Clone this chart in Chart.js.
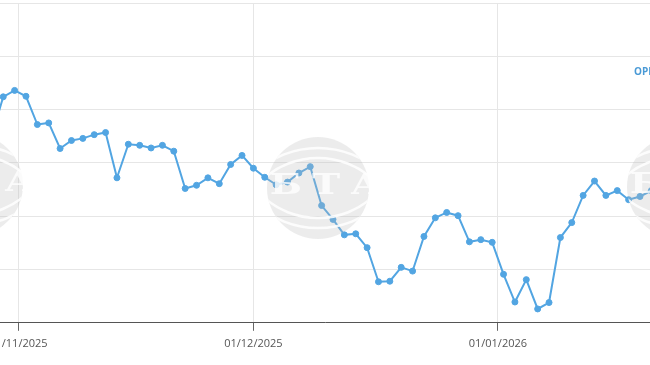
<!DOCTYPE html>
<html lang="en">
<head>
    <meta charset="UTF-8">
    <title>OPEC basket price</title>
    <script src="https://cdn.jsdelivr.net/npm/chart.js"></script>
    <style>
        html, body {
            margin: 0;
            padding: 0;
            background-color: #fff;
        }
        .chart-wrapper {
            width: 650px;
            height: 365px;
        }
    </style>
</head>
<body>
    <div class="chart-wrapper">
        <canvas id="priceChart" width="650" height="365"></canvas>
    </div>

    <script>
        // Series data (trading days only)
        const seriesName = 'OPEC';
        const dates = [
            '2025-10-29', '2025-10-30', '2025-10-31',
            '2025-11-03', '2025-11-04', '2025-11-05', '2025-11-06', '2025-11-07',
            '2025-11-10', '2025-11-11', '2025-11-12', '2025-11-13', '2025-11-14',
            '2025-11-17', '2025-11-18', '2025-11-19', '2025-11-20', '2025-11-21',
            '2025-11-24', '2025-11-25', '2025-11-26', '2025-11-27', '2025-11-28',
            '2025-12-01', '2025-12-02', '2025-12-03', '2025-12-04', '2025-12-05',
            '2025-12-08', '2025-12-09', '2025-12-10', '2025-12-11', '2025-12-12',
            '2025-12-15', '2025-12-16', '2025-12-17', '2025-12-18', '2025-12-19',
            '2025-12-22', '2025-12-23', '2025-12-24', '2025-12-26',
            '2025-12-29', '2025-12-30', '2025-12-31',
            '2026-01-02', '2026-01-05', '2026-01-06', '2026-01-07', '2026-01-08',
            '2026-01-09', '2026-01-12', '2026-01-13', '2026-01-14', '2026-01-15',
            '2026-01-16', '2026-01-19', '2026-01-20', '2026-01-21'
        ];
        const prices = [
            64.52, 65.24, 65.36,
            65.25, 64.72, 64.75, 64.27, 64.42,
            64.46, 64.53, 64.57, 63.72, 64.35,
            64.33, 64.28, 64.33, 64.22, 63.52,
            63.58, 63.72, 63.61, 63.97, 64.14,
            63.90, 63.73, 63.59, 63.64, 63.81,
            63.93, 63.20, 62.94, 62.65, 62.67,
            62.41, 61.77, 61.78, 62.04, 61.97,
            62.62, 62.97, 63.07, 63.01,
            62.52, 62.56, 62.51,
            61.91, 61.39, 61.81, 61.26, 61.38,
            62.60, 62.88, 63.39, 63.66, 63.39,
            63.48, 63.31, 63.37, 63.48
        ];

        // Month ticks on the ordinal (trading day) axis
        const monthStarts = ['2025-11-01', '2025-12-01', '2026-01-01'];
        const tickLabels = ['01/11/2025', '01/12/2025', '01/01/2026'];

        // fractional index of a calendar day between the trading days around it
        function positionOf(day) {
            const t = Date.parse(day);
            for (let i = 0; i < dates.length - 1; i++) {
                const a = Date.parse(dates[i]);
                const b = Date.parse(dates[i + 1]);
                if (t >= a && t < b) return i + (t - a) / (b - a);
            }
            return dates.length - 1;
        }
        const tickPositions = monthStarts.map(positionOf);

        const lineColor = '#52a5e2';

        // BTA watermark drawn over the series
        const watermark = {
            id: 'watermark',
            afterDatasetsDraw(chart) {
                const ctx = chart.ctx;
                const spots = [[-28, 185], [318, 188], [678, 187]];
                spots.forEach(function(s) {
                    const cx = s[0], cy = s[1], r = 51;
                    ctx.save();
                    ctx.fillStyle = 'rgba(185, 185, 185, 0.28)';
                    ctx.beginPath();
                    ctx.arc(cx, cy, r, 0, Math.PI * 2);
                    ctx.fill();
                    ctx.clip();
                    ctx.strokeStyle = 'rgba(255, 255, 255, 0.85)';
                    ctx.lineWidth = 2.5;
                    [[52, 92], [52, 82], [-52, 92], [-52, 82]].forEach(function(a) {
                        ctx.beginPath();
                        ctx.arc(cx, cy + a[0], a[1], 0, Math.PI * 2);
                        ctx.stroke();
                    });
                    ctx.restore();

                    ctx.save();
                    ctx.fillStyle = 'rgba(255, 255, 255, 0.8)';
                    ctx.font = 'bold 28px "DejaVu Serif"';
                    ctx.textAlign = 'center';
                    [['Б', -32], ['Т', 8], ['А', 48]].forEach(function(l) {
                        ctx.save();
                        ctx.translate(cx + l[1], cy + 6);
                        ctx.scale(1.35, 1);
                        ctx.fillText(l[0], 0, 0);
                        ctx.restore();
                    });
                    ctx.restore();
                });
            }
        };

        // legend entry at the top right (partly outside the picture)
        const seriesLabel = {
            id: 'seriesLabel',
            afterDraw(chart) {
                const ctx = chart.ctx;
                ctx.save();
                ctx.font = 'bold 10px "Open Sans"';
                ctx.fillStyle = '#4a9ad6';
                ctx.textBaseline = 'alphabetic';
                ctx.fillText(chart.data.datasets[0].label, 634, 74.5);
                ctx.restore();
            }
        };

        const ctx = document.getElementById('priceChart').getContext('2d');
        const chart = new Chart(ctx, {
            type: 'line',
            data: {
                datasets: [{
                    label: seriesName,
                    data: prices.map((p, i) => ({ x: i, y: p })),
                    borderColor: lineColor,
                    backgroundColor: lineColor,
                    borderWidth: 2,
                    pointRadius: 3,
                    pointBorderWidth: 1,
                    pointBorderColor: lineColor,
                    pointBackgroundColor: lineColor,
                    tension: 0,
                    fill: false
                }]
            },
            options: {
                responsive: false,
                animation: false,
                layout: {
                    autoPadding: false,
                    padding: { top: 3, bottom: 9, left: 0, right: 0 }
                },
                plugins: {
                    legend: { display: false },
                    tooltip: { enabled: false },
                    title: { display: false }
                },
                scales: {
                    x: {
                        type: 'linear',
                        min: 0.715,
                        max: 57.88,
                        afterBuildTicks: function(scale) {
                            scale.ticks = tickPositions.map(v => ({ value: v }));
                        },
                        afterFit: function(scale) {
                            scale.paddingLeft = 0;
                            scale.paddingRight = 0;
                        },
                        grid: {
                            color: '#e6e6e6',
                            tickColor: '#666',
                            tickLength: 8,
                            lineWidth: 1
                        },
                        border: {
                            color: '#555',
                            width: 1
                        },
                        ticks: {
                            autoSkip: false,
                            maxRotation: 0,
                            padding: 6,
                            color: '#555',
                            font: { family: '"Open Sans"', size: 11 },
                            callback: function(value, index) {
                                return tickLabels[index];
                            }
                        }
                    },
                    y: {
                        min: 61,
                        max: 67,
                        ticks: { display: false, stepSize: 1 },
                        grid: {
                            color: '#e6e6e6',
                            drawTicks: false,
                            lineWidth: 1
                        },
                        border: { display: false }
                    }
                }
            },
            plugins: [watermark, seriesLabel]
        });
    </script>
</body>
</html>
